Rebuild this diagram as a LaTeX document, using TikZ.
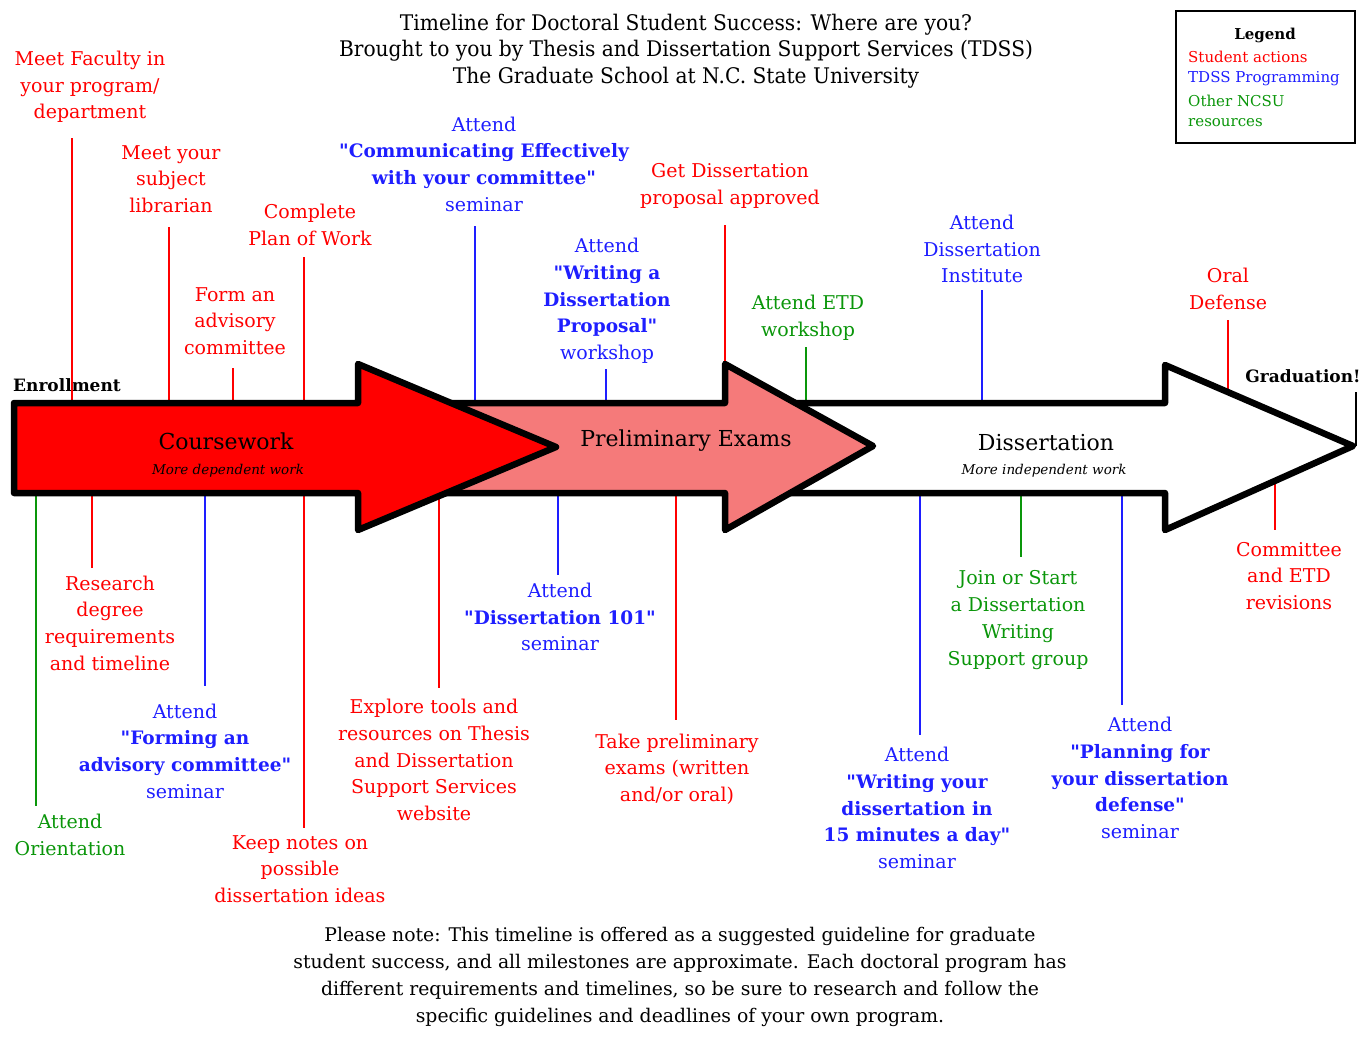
\documentclass[tikz,border=0pt]{standalone}
\usepackage{fontspec}
\setmainfont{DejaVu Serif}[Ligatures=TeXOff]
\newfontfamily\titlefont{DejaVu Serif}[FakeStretch=0.94,Ligatures=TeXOff]
\newcommand\bq[1]{{\fontsize{18.5}{26.7}\selectfont\bfseries #1}}
\definecolor{tred}{RGB}{255,0,0}
\definecolor{tblue}{RGB}{30,30,255}
\definecolor{tgreen}{RGB}{10,150,10}
\definecolor{prelimfill}{RGB}{245,122,122}
\begin{document}
\begin{tikzpicture}[x=1pt,y=-1pt,
  lab/.style={align=center,font=\fontsize{19}{26.7}\selectfont,inner sep=0pt},
  rlab/.style={lab,text=tred},
  blab/.style={lab,text=tblue},
  glab/.style={lab,text=tgreen},
  rl/.style={draw=tred,line width=2pt},
  bl/.style={draw=tblue,line width=2pt},
  gl/.style={draw=tgreen,line width=2pt},
  kl/.style={draw=black,line width=2pt},
  bigarrow/.style={draw=black,line width=6.5pt,line join=round},
  arrowtitle/.style={font=\fontsize{22}{24}\selectfont,inner sep=0pt},
  arrowsub/.style={font=\fontsize{13.5}{16}\selectfont\itshape,inner sep=0pt},
  blk/.style={font=\fontsize{17}{20}\selectfont\bfseries,inner sep=0pt}
]
\useasboundingbox[fill=white] (0,0) rectangle (1364,1036);

% ---------- title ----------
\node[align=center,inner sep=0pt,font=\titlefont\fontsize{21.5}{26.5}\selectfont] (title) at (686,51)
  {Timeline for Doctoral Student Success: Where are you?\\Brought to you by Thesis and Dissertation Support Services (TDSS)\\The Graduate School at N.C. State University};

% ---------- legend ----------
\node[draw=black,line width=2pt,minimum width=179pt,minimum height=132pt,inner sep=0pt] (legendbox) at (1265.5,77) {};
\node[inner sep=0pt,font=\fontsize{15}{18}\selectfont\bfseries] (legendtitle) at (1265,35) {Legend};
\node[inner sep=0pt,anchor=west,font=\fontsize{15}{18}\selectfont,text=tred] (lg1) at (1188,57) {Student actions};
\node[inner sep=0pt,anchor=west,font=\fontsize{15}{18}\selectfont,text=tblue] (lg2) at (1188,79) {TDSS Programming};
\node[inner sep=0pt,anchor=west,font=\fontsize{15}{18}\selectfont,text=tgreen] (lg3) at (1188,101) {Other NCSU};
\node[inner sep=0pt,anchor=west,font=\fontsize{15}{18}\selectfont,text=tgreen] (lg4) at (1188,123) {resources};

% ---------- top labels ----------
\node[rlab] (t1) at (90,87) {Meet Faculty in\\your program/\\department};
\node[rlab] (t2) at (171,179) {Meet your\\subject\\librarian};
\node[rlab] (t3) at (310,225) {Complete\\Plan of Work};
\node[rlab] (t4) at (235,321) {Form an\\advisory\\committee};
\node[blab] (t5) at (484,164) {Attend\\\bq{"Communicating Effectively}\\\bq{with your committee"}\\seminar};
\node[blab] (t6) at (607,301) {Attend\\\bq{"Writing a}\\\bq{Dissertation}\\\bq{Proposal"}\\workshop};
\node[rlab] (t7) at (730,186) {Get Dissertation\\proposal approved};
\node[glab] (t8) at (808,318) {Attend ETD\\workshop};
\node[blab] (t9) at (982,249) {Attend\\Dissertation\\Institute};
\node[rlab] (t10) at (1228,289) {Oral\\Defense};
\node[blk] (grad) at (1303,376) {Graduation!};
\node[blk] (enroll) at (67,385) {Enrollment};

% ---------- bottom labels ----------
\node[glab] (b1) at (70,835) {Attend\\Orientation};
\node[rlab] (b2) at (110,623) {Research\\degree\\requirements\\and timeline};
\node[blab] (b3) at (185,751) {Attend\\\bq{"Forming an}\\\bq{advisory committee"}\\seminar};
\node[rlab] (b4) at (300,869) {Keep notes on\\possible\\dissertation ideas};
\node[rlab] (b5) at (434,760) {Explore tools and\\resources on Thesis\\and Dissertation\\Support Services\\website};
\node[blab] (b6) at (560,617) {Attend\\\bq{"Dissertation 101"}\\seminar};
\node[rlab] (b7) at (677,769) {Take preliminary\\exams (written\\and/or oral)};
\node[blab] (b8) at (917,808) {Attend\\\bq{"Writing your}\\\bq{dissertation in}\\\bq{15 minutes a day"}\\seminar};
\node[glab] (b9) at (1018,620) {Join or Start\\a Dissertation\\Writing\\Support group};
\node[blab] (b10) at (1140,778) {Attend\\\bq{"Planning for}\\\bq{your dissertation}\\\bq{defense"}\\seminar};
\node[rlab] (b11) at (1289,576) {Committee\\and ETD\\revisions};

% ---------- note ----------
\node[align=center,inner sep=0pt,font=\fontsize{18.8}{26.9}\selectfont] (note) at (680,977) {Please note: This timeline is offered as a suggested guideline for graduate\\student success, and all milestones are approximate. Each doctoral program has\\different requirements and timelines, so be sure to research and follow the\\specific guidelines and deadlines of your own program.};

% ---------- connector end points ----------
\coordinate (t1a) at (72,138);   \coordinate (t1b) at (72,403);
\coordinate (t2a) at (169,227);  \coordinate (t2b) at (169,403);
\coordinate (t3a) at (304,257);  \coordinate (t3b) at (304,403);
\coordinate (t4a) at (233,368);  \coordinate (t4b) at (233,403);
\coordinate (t5a) at (475,226);  \coordinate (t5b) at (475,403);
\coordinate (t6a) at (606,369);  \coordinate (t6b) at (606,403);
\coordinate (t7a) at (725,225);  \coordinate (t7b) at (725,366);
\coordinate (t8a) at (806,347);  \coordinate (t8b) at (806,403);
\coordinate (t9a) at (982,290);  \coordinate (t9b) at (982,403);
\coordinate (t10a) at (1228,320); \coordinate (t10b) at (1228,389);
\coordinate (gra) at (1356,392); \coordinate (grb) at (1356,446);

\coordinate (b1a) at (36,493);   \coordinate (b1b) at (36,806);
\coordinate (b2a) at (92,493);   \coordinate (b2b) at (92,568);
\coordinate (b3a) at (205,493);  \coordinate (b3b) at (205,686);
\coordinate (b4a) at (304,493);  \coordinate (b4b) at (304,828);
\coordinate (b5a) at (439,498);  \coordinate (b5b) at (439,688);
\coordinate (b6a) at (558,493);  \coordinate (b6b) at (558,575);
\coordinate (b7a) at (676,493);  \coordinate (b7b) at (676,720);
\coordinate (b8a) at (920,493);  \coordinate (b8b) at (920,735);
\coordinate (b9a) at (1021,493); \coordinate (b9b) at (1021,557);
\coordinate (b10a) at (1122,493); \coordinate (b10b) at (1122,705);
\coordinate (b11a) at (1275,484); \coordinate (b11b) at (1275,530);

% ---------- connectors ----------
\draw[rl] (t1a) -- (t1b);
\draw[rl] (t2a) -- (t2b);
\draw[rl] (t3a) -- (t3b);
\draw[rl] (t4a) -- (t4b);
\draw[bl] (t5a) -- (t5b);
\draw[bl] (t6a) -- (t6b);
\draw[rl] (t7a) -- (t7b);
\draw[gl] (t8a) -- (t8b);
\draw[bl] (t9a) -- (t9b);
\draw[rl] (t10a) -- (t10b);
\draw[kl] (gra) -- (grb);
\draw[gl] (b1a) -- (b1b);
\draw[rl] (b2a) -- (b2b);
\draw[bl] (b3a) -- (b3b);
\draw[rl] (b4a) -- (b4b);
\draw[rl] (b5a) -- (b5b);
\draw[bl] (b6a) -- (b6b);
\draw[rl] (b7a) -- (b7b);
\draw[bl] (b8a) -- (b8b);
\draw[gl] (b9a) -- (b9b);
\draw[bl] (b10a) -- (b10b);
\draw[rl] (b11a) -- (b11b);

% ---------- arrows ----------
\draw[bigarrow,fill=white] (790,403) -- (1165,403) -- (1165,365) -- (1353,446) -- (1165,530) -- (1165,493) -- (790,493) -- cycle;
\draw[bigarrow,fill=prelimfill] (440,403) -- (725,403) -- (725,364) -- (873,446) -- (725,530) -- (725,493) -- (440,493) -- cycle;
\draw[bigarrow,fill=tred] (14,403) -- (358,403) -- (358,364) -- (556,447) -- (358,530) -- (358,493) -- (14,493) -- cycle;

\node[arrowtitle] (cw) at (226,441) {Coursework};
\node[arrowsub] (cws) at (228,471) {More dependent work};
\node[arrowtitle] (pe) at (686,441) {Preliminary Exams};
\node[arrowtitle] (ds) at (1046,443) {Dissertation};
\node[arrowsub] (dss) at (1044,471) {More independent work};
\end{tikzpicture}
\end{document}
